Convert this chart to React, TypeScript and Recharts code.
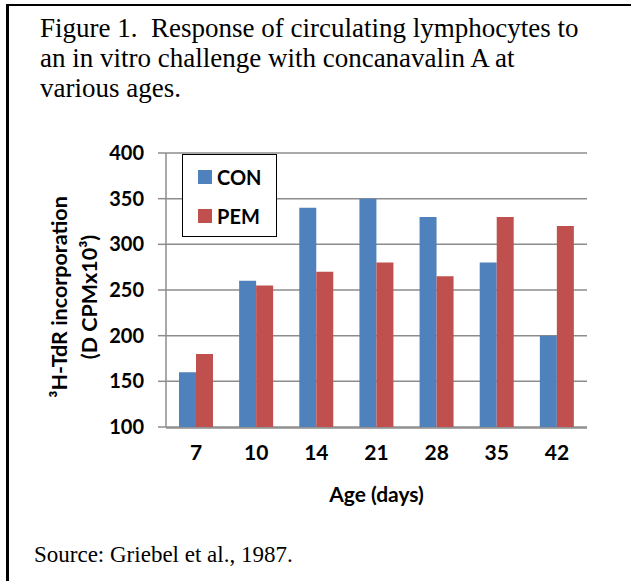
import {
  BarChart,
  Bar,
  XAxis,
  YAxis,
  CartesianGrid,
  Legend
} from "recharts";

const ages = ["7", "10", "14", "21", "28", "35", "42"];
const conValues = [160, 260, 340, 350, 330, 280, 200];
const pemValues = [180, 255, 270, 280, 265, 330, 320];
const yTicks = [100, 150, 200, 250, 300, 350, 400];
// marcas entre categorías (estilo Excel)
const boundaryTicks = [0, 1, 2, 3, 4, 5, 6, 7];

const titleLines = [
  "Figure 1.  Response of circulating lymphocytes to",
  "an in vitro challenge with concanavalin A at",
  "various ages."
];
const sourceText = "Source: Griebel et al., 1987.";

const colores = { con: "#4F81BD", pem: "#C0504D" };
const gris = "#8c8c8c";
const chartFont = "Lato, 'Open Sans', sans-serif";

const data = ages.map((age, i) => ({
  age,
  CON: conValues[i],
  PEM: pemValues[i]
}));

const renderLegend = (props: any) => {
  const { payload } = props;
  return (
    <div
      style={{
        width: 93,
        height: 81,
        border: "1.5px solid #000",
        background: "#fff",
        boxSizing: "content-box",
        fontFamily: chartFont,
        fontWeight: 700,
        fontSize: 20,
        color: "#000"
      }}
    >
      {(payload || []).map((entry: any, i: number) => (
        <div
          key={entry.value}
          style={{
            position: "absolute",
            left: 16,
            top: i === 0 ? 14 : 53,
            display: "flex",
            alignItems: "center",
            height: 18
          }}
        >
          <span
            style={{
              display: "inline-block",
              width: 14,
              height: 14,
              background: entry.color,
              marginRight: 5
            }}
          />
          <span style={{ lineHeight: "18px" }}>{entry.value}</span>
        </div>
      ))}
    </div>
  );
};

const YLabel = (props: any) => {
  const vb = props.viewBox || { x: 0, y: 0, width: 0, height: 0 };
  const cy = vb.y + vb.height / 2 + 7;
  return (
    <g
      style={{ fontFamily: chartFont, fontWeight: 700, fontSize: 21.5 }}
      fill="#000"
    >
      <text x={67} y={cy} transform={`rotate(-90, 67, ${cy})`} textAnchor="middle">
        ³H-TdR incorporation
      </text>
      <text x={97} y={cy} transform={`rotate(-90, 97, ${cy})`} textAnchor="middle">
        (D CPMx10³)
      </text>
    </g>
  );
};

const XLabel = (props: any) => {
  const vb = props.viewBox || { x: 0, y: 0, width: 0, height: 0 };
  return (
    <text
      x={vb.x + vb.width / 2}
      y={vb.y + 75}
      textAnchor="middle"
      fill="#000"
      style={{ fontFamily: chartFont, fontWeight: 700, fontSize: 21 }}
    >
      Age (days)
    </text>
  );
};

export default function App() {
  return (
    <div
      style={{
        position: "absolute",
        left: 0,
        top: 0,
        width: 631,
        height: 581,
        background: "#fff",
        overflow: "hidden"
      }}
    >
      {/* marco superior e izquierdo */}
      <div
        style={{
          position: "absolute",
          left: 6,
          top: 4,
          width: 700,
          height: 700,
          borderTop: "2px solid #000",
          borderLeft: "3px solid #000"
        }}
      />

      <div
        style={{
          position: "absolute",
          left: 40,
          top: 13,
          fontFamily: "'Liberation Serif', serif",
          fontSize: 27,
          lineHeight: "30px",
          color: "#000",
          whiteSpace: "pre"
        }}
      >
        {titleLines.map((line) => (
          <div key={line}>{line}</div>
        ))}
      </div>

      <div style={{ position: "absolute", left: 0, top: 0 }}>
        <BarChart
          width={631}
          height={581}
          data={data}
          margin={{ top: 153, right: 44, bottom: 152, left: 106 }}
          barCategoryGap="21.6%"
          barGap={0}
        >
          <CartesianGrid
            vertical={false}
            stroke={gris}
            strokeWidth={1.5}
          />
          <XAxis
            xAxisId="b"
            type="number"
            domain={[0, 7]}
            ticks={boundaryTicks}
            height={1}
            tick={false}
            tickSize={7}
            axisLine={{ stroke: gris, strokeWidth: 1.5 }}
            tickLine={{ stroke: gris, strokeWidth: 1.5 }}
          />
          <XAxis
            dataKey="age"
            height={1}
            axisLine={false}
            tickLine={false}
            tickSize={0}
            tickMargin={18}
            tick={{ fill: "#000", fontFamily: chartFont, fontWeight: 700, fontSize: 21 }}
            label={<XLabel />}
          />
          <YAxis
            width={60}
            domain={[100, 400]}
            ticks={yTicks}
            interval={0}
            tickSize={8}
            tickMargin={14}
            axisLine={{ stroke: gris, strokeWidth: 1.5 }}
            tickLine={{ stroke: gris, strokeWidth: 1.5 }}
            tick={{ fill: "#000", fontFamily: chartFont, fontWeight: 700, fontSize: 20 }}
            label={<YLabel />}
          />
          <Legend
            layout="vertical"
            align="center"
            verticalAlign="middle"
            content={renderLegend}
            wrapperStyle={{ left: 182, top: 154, width: 96, height: 84 }}
          />
          <Bar dataKey="CON" name="CON" fill={colores.con} isAnimationActive={false} />
          <Bar dataKey="PEM" name="PEM" fill={colores.pem} isAnimationActive={false} />
        </BarChart>
      </div>

      <div
        style={{
          position: "absolute",
          left: 34,
          top: 540,
          fontFamily: "'Liberation Serif', serif",
          fontSize: 23,
          lineHeight: "30px",
          color: "#000",
          whiteSpace: "pre"
        }}
      >
        {sourceText}
      </div>
    </div>
  );
}
